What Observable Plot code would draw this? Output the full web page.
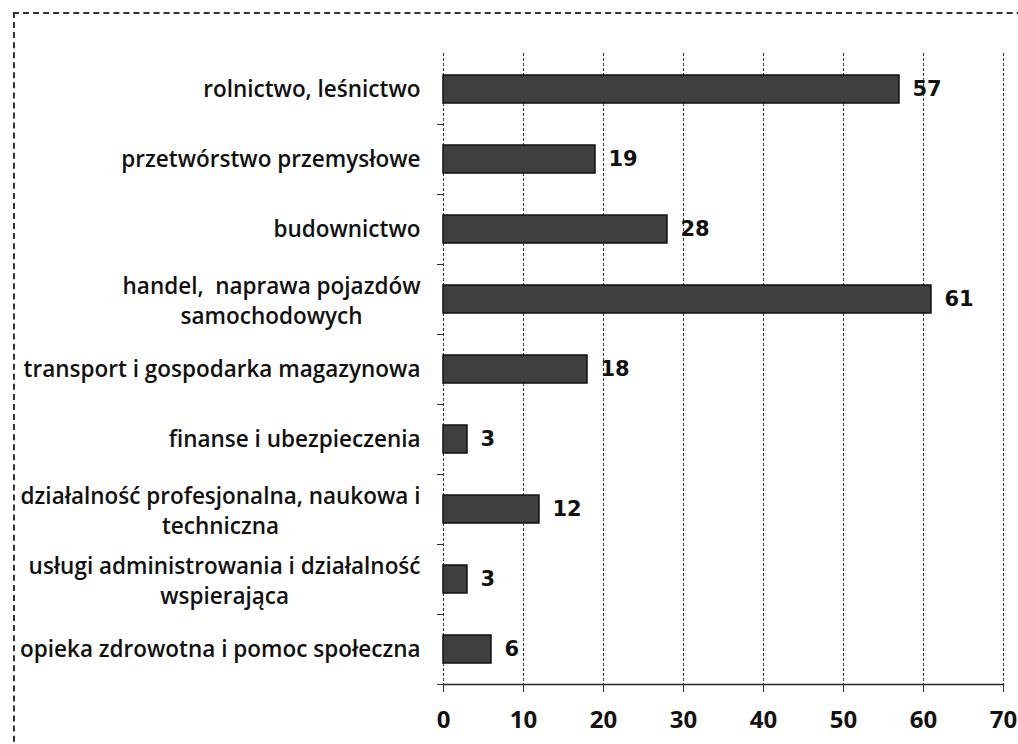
<!DOCTYPE html>
<html>
<head>
<meta charset="utf-8">
<script src="https://cdn.jsdelivr.net/npm/d3@7"></script>
<script src="https://cdn.jsdelivr.net/npm/@observablehq/plot@0.6"></script>
<style>
  html, body { margin: 0; padding: 0; background: #fff; }
  #wrap { position: relative; width: 1018px; height: 744px; overflow: hidden; }
  #border { position: absolute; left: 13px; top: 12px; width: 1100px; height: 800px;
            border-left: 2px dashed #333; border-top: 2px dashed #333; box-sizing: border-box; }
  #chart { position: absolute; left: 0; top: 0; }
</style>
</head>
<body>
<div id="wrap"><div id="border"></div><div id="chart"></div></div>
<script>
const categories = [
  "rolnictwo, leśnictwo",
  "przetwórstwo przemysłowe",
  "budownictwo",
  "handel,  naprawa pojazdów\nsamochodowych",
  "transport i gospodarka magazynowa",
  "finanse i ubezpieczenia",
  "działalność profesjonalna, naukowa i\ntechniczna",
  "usługi administrowania i działalność\nwspierająca",
  "opieka zdrowotna i pomoc społeczna"
];
const values = [57, 19, 28, 61, 18, 3, 12, 3, 6];
const xTicks = [0, 10, 20, 30, 40, 50, 60, 70];

const data = categories.map((c, i) => ({category: c, value: values[i]}));

const labelFont = "'Open Sans', sans-serif";
const labelSize = 22.5;
const labelWeight = 600;
const gap = 23;

const ctx = document.createElement("canvas").getContext("2d");
ctx.font = `${labelWeight} ${labelSize}px 'Open Sans'`;
const widest = s => Math.max(...s.split("\n").map(l => ctx.measureText(l).width));

const single = data.filter(d => !d.category.includes("\n"));
const multi = data.filter(d => d.category.includes("\n"));

const labelMarks = [
  Plot.text(single, {y: "category", text: "category", frameAnchor: "left", textAnchor: "end", dx: -gap,
    fontFamily: labelFont, fontSize: labelSize, fontWeight: labelWeight, fill: "#111"}),
  ...multi.map(d => Plot.text([d], {y: "category", text: "category", frameAnchor: "left", textAnchor: "middle",
    dx: -gap - widest(d.category) / 2, lineHeight: 1.32,
    fontFamily: labelFont, fontSize: labelSize, fontWeight: labelWeight, fill: "#111"}))
];

const chart = Plot.plot({
  width: 1018,
  height: 744,
  marginLeft: 443,
  marginRight: 15,
  marginTop: 53,
  marginBottom: 60,
  style: {background: "transparent", fontFamily: labelFont, color: "#111"},
  x: {domain: [0, 70]},
  y: {domain: categories, paddingInner: 0.6, paddingOuter: 0.3},
  marks: [
    Plot.ruleX(xTicks, {stroke: "#333", strokeDasharray: "3,2", strokeWidth: 1}),
    Plot.barX(data, {x: "value", y: "category", fill: "#3f3f3f", stroke: "#111", strokeWidth: 1.5}),
    Plot.text(data, {x: "value", y: "category", text: d => String(d.value), textAnchor: "start", dx: 13,
      fontFamily: "DejaVu Sans", fontWeight: "bold", fontSize: 21, fill: "#111"}),
    Plot.frame({anchor: "bottom", stroke: "#222", strokeWidth: 1.5}),
    Plot.axisX({ticks: xTicks, tickSize: 8, tickPadding: 18, fontSize: 24, fontWeight: 700,
      fontFamily: labelFont, label: null, stroke: "#333", fill: "#111"}),
    Plot.axisY({tickSize: 6, tickFormat: () => "", dy: 35, label: null, stroke: "#333"}),
    ...labelMarks
  ]
});
document.getElementById("chart").appendChild(chart);
</script>
</body>
</html>
